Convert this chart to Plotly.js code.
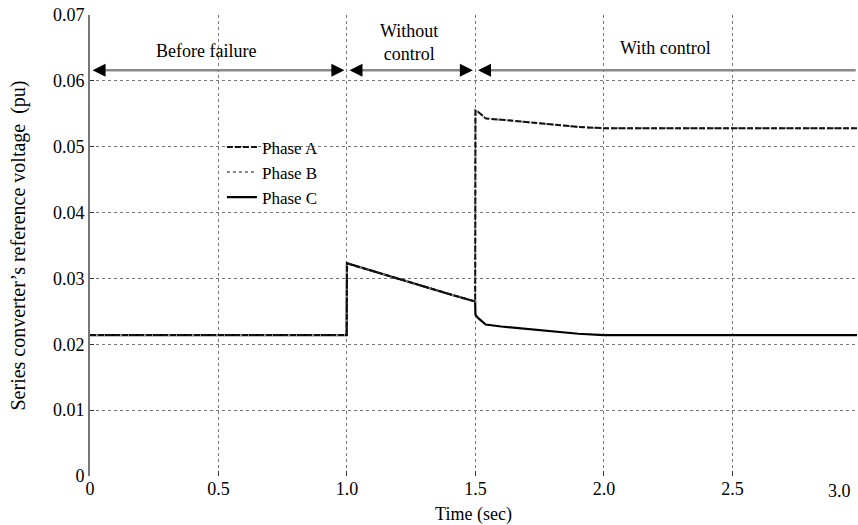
<!DOCTYPE html>
<html>
<head>
<meta charset="utf-8">
<script src="https://cdn.plot.ly/plotly-3.0.1.min.js"></script>
<style>html,body{margin:0;padding:0;background:#fff;}#chart{width:858px;height:525px;}</style>
</head>
<body>
<div id="chart"></div>
<script>
// ---- data ----
const timeSec = [0, 0.999, 1.0, 1.1, 1.2, 1.3, 1.4, 1.499, 1.5, 1.51, 1.54, 1.6, 1.7, 1.8, 1.9, 2.0, 2.5, 3.0];
const phaseA  = [0.0214, 0.0214, 0.0323, 0.0311, 0.0299, 0.0287, 0.0276, 0.0265, 0.0555, 0.0553, 0.0543, 0.0541, 0.0537, 0.0533, 0.0530, 0.0528, 0.0528, 0.0528];
const phaseB  = [0.0214, 0.0214, 0.0323, 0.0311, 0.0299, 0.0287, 0.0276, 0.0265, 0.0555, 0.0553, 0.0543, 0.0541, 0.0537, 0.0533, 0.0530, 0.0528, 0.0528, 0.0528];
const phaseC  = [0.0214, 0.0214, 0.0323, 0.0311, 0.0299, 0.0287, 0.0276, 0.0265, 0.0245, 0.0240, 0.0230, 0.0227, 0.0223, 0.0219, 0.0216, 0.0214, 0.0214, 0.0214];
const seriesNames = ['Phase A', 'Phase B', 'Phase C'];
const xTickVals = [0, 0.5, 1.0, 1.5, 2.0, 2.5];
const xTickText = ['0', '0.5', '1.0', '1.5', '2.0', '2.5'];
const xLastTick = '3.0';
const yTickVals = [0, 0.01, 0.02, 0.03, 0.04, 0.05, 0.06, 0.07];
const yTickText = ['0', '0.01', '0.02', '0.03', '0.04', '0.05', '0.06', '0.07'];
const stageBounds = [0, 1.0, 1.5, 3.0];
const stageLabels = ['Before failure', 'Without<br>control', 'With control'];
const xTitle = 'Time (sec)';
const yTitle = 'Series converter’s reference voltage  (pu)';

const FONT = 'Liberation Serif';
const FS = 18;

const traces = [
  {x: timeSec, y: phaseC, name: seriesNames[2], mode: 'lines', line: {color: '#000', width: 2.2, dash: 'solid'}},
  {x: timeSec, y: phaseB, name: seriesNames[1], mode: 'lines', line: {color: '#888', width: 2, dash: 'dot'}},
  {x: timeSec, y: phaseA, name: seriesNames[0], mode: 'lines', line: {color: '#111', width: 2, dash: '6px,2px'}}
];

const arrowY = 0.0616;
const shapes = [];
const annotations = [];
for (let i = 0; i < stageBounds.length - 1; i++) {
  const a = stageBounds[i], b = stageBounds[i + 1];
  shapes.push({type: 'line', xref: 'x', yref: 'y', x0: a + 0.02, x1: b - 0.02, y0: arrowY, y1: arrowY,
               line: {color: '#8a8a8a', width: 2.5}});
  annotations.push({x: a + 0.01, y: arrowY, xref: 'x', yref: 'y', ax: 14, ay: 0, text: '', showarrow: true,
                    arrowhead: 2, arrowsize: 1.3, arrowwidth: 2, arrowcolor: '#000'});
  annotations.push({x: b - 0.01, y: arrowY, xref: 'x', yref: 'y', ax: -14, ay: 0, text: '', showarrow: true,
                    arrowhead: 2, arrowsize: 1.3, arrowwidth: 2, arrowcolor: '#000'});
}
const labelX = [0.45, 1.24, 2.24];
const labelY = [0.0646, 0.0658, 0.065];
stageLabels.forEach((t, i) => {
  annotations.push({x: labelX[i], y: labelY[i], xref: 'x', yref: 'y', text: t, showarrow: false,
                    font: {family: FONT, size: FS, color: '#000'}, align: 'center'});
});
annotations.push({x: 1, y: 0, xref: 'paper', yref: 'paper', xanchor: 'right', yanchor: 'top', xshift: -4, yshift: -3,
                  text: xLastTick, showarrow: false, font: {family: FONT, size: FS, color: '#000'}});

const layout = {
  width: 858, height: 525,
  margin: {l: 90, r: 1, t: 15, b: 49},
  paper_bgcolor: '#fff', plot_bgcolor: '#fff',
  font: {family: FONT, size: FS, color: '#000'},
  showlegend: true,
  legend: {x: 0.172, y: 0.752, xanchor: 'left', yanchor: 'top', bgcolor: 'rgba(0,0,0,0)',
           font: {family: FONT, size: 17, color: '#000'}, traceorder: 'reversed', tracegroupgap: 0},
  xaxis: {range: [0, 2.985], tickvals: xTickVals, ticktext: xTickText, showgrid: true,
          gridcolor: '#777', griddash: 'dot', gridwidth: 1, zeroline: false,
          showline: false, ticks: 'inside', ticklen: 5, tickcolor: '#333',
          tickfont: {family: FONT, size: FS, color: '#000'},
          title: {text: xTitle, font: {family: FONT, size: FS, color: '#000'}, standoff: 12}},
  yaxis: {range: [0, 0.07], tickvals: yTickVals, ticktext: yTickText, showgrid: true,
          gridcolor: '#777', griddash: 'dot', gridwidth: 1, zeroline: false,
          showline: true, linecolor: '#777', linewidth: 2, ticks: 'inside', ticklen: 4, tickcolor: '#333',
          tickfont: {family: FONT, size: FS, color: '#000'},
          title: {text: yTitle, font: {family: FONT, size: 20, color: '#000'}, standoff: 22}},
  shapes: shapes,
  annotations: annotations
};

Plotly.newPlot('chart', traces, layout, {staticPlot: true, displayModeBar: false});
</script>
</body>
</html>
